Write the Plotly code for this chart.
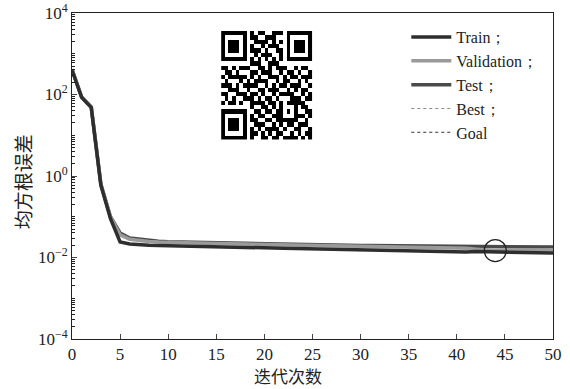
import plotly.graph_objects as go

epochs = list(range(51))
train = [400, 85, 48, 0.6, 0.09, 0.024, 0.0215, 0.0205, 0.0200, 0.0196,
         0.0193, 0.0191, 0.0189, 0.0187, 0.0185, 0.0183, 0.0181, 0.0179, 0.0177, 0.0175,
         0.0173, 0.0171, 0.0169, 0.0167, 0.0165, 0.0163, 0.0161, 0.0159, 0.0157, 0.0155,
         0.0153, 0.0151, 0.0149, 0.0147, 0.0145, 0.0143, 0.0141, 0.0139, 0.0137, 0.0135,
         0.0134, 0.0136, 0.0140, 0.0138, 0.0135, 0.0134, 0.0133, 0.0132, 0.0131, 0.0130,
         0.0129]
validation = [420, 88, 50, 0.65, 0.10, 0.036, 0.028, 0.026, 0.0248, 0.0240,
              0.0234, 0.0231, 0.0228, 0.0226, 0.0224, 0.0222, 0.0220, 0.0218, 0.0216, 0.0214,
              0.0212, 0.0210, 0.0208, 0.0206, 0.0204, 0.0202, 0.0200, 0.0198, 0.0196, 0.0194,
              0.0192, 0.0190, 0.0188, 0.0186, 0.0184, 0.0182, 0.0180, 0.0178, 0.0176, 0.0174,
              0.0172, 0.0168, 0.0160, 0.0152, 0.0148, 0.0150, 0.0151, 0.0152, 0.0153, 0.0154,
              0.0155]
test = [410, 87, 49, 0.62, 0.10, 0.040, 0.030, 0.028, 0.026, 0.025,
        0.0242, 0.0239, 0.0236, 0.0233, 0.0230, 0.0228, 0.0226, 0.0224, 0.0222, 0.0220,
        0.0218, 0.0216, 0.0214, 0.0212, 0.0210, 0.0208, 0.0206, 0.0204, 0.0202, 0.0200,
        0.0198, 0.0197, 0.0196, 0.0195, 0.0194, 0.0193, 0.0192, 0.0191, 0.0190, 0.0189,
        0.0188, 0.0187, 0.0186, 0.0185, 0.0184, 0.0183, 0.0182, 0.0181, 0.0181, 0.0180,
        0.0180]
best_epoch = 44
best_value = 0.0148

ytick_vals = [1e-4, 1e-2, 1, 1e2, 1e4]
ytick_text = ["10<sup>\u22124</sup>", "10<sup>\u22122</sup>", "10<sup>0</sup>",
              "10<sup>2</sup>", "10<sup>4</sup>"]
xtick_vals = [0, 5, 10, 15, 20, 25, 30, 35, 40, 45, 50]
legend_names = ["Train\uff1b", "Validation\uff1b", "Test\uff1b", "Best\uff1b", "Goal"]

qr_rows = [
    "1111111010110011101111111",
    "1000001011001110001000001",
    "1011101001111010101011101",
    "1011101010010111001011101",
    "1011101011101001101011101",
    "1000001001011100101000001",
    "1111111010101010101111111",
    "0000000011100111000000000",
    "1101011100110101110010110",
    "0110100011011100101101001",
    "1011111010100111010110111",
    "0100010101111001011001010",
    "1110101111001010110111001",
    "0011100100110111001010110",
    "1100111011010010111100101",
    "0101001110101101000111011",
    "1011010011110110101111100",
    "0000000010011010100010110",
    "1111111001101101101010011",
    "1000001010110011100011101",
    "1011101011001101111110010",
    "1011101001110010101101110",
    "1011101010101111010011001",
    "1000001011010101100101011",
    "1111111010011011011110101",
]

minor_vals = []
for k in range(-4, 4):
    for m in range(2, 10):
        minor_vals.append(m * 10 ** k)
    if k % 2 == 1:
        minor_vals.append(10 ** k)

serif = "Liberation Serif, Times New Roman, serif"
cjk = "Noto Sans CJK SC, sans-serif"

fig = go.Figure()
fig.add_trace(go.Scatter(x=epochs, y=test, mode="lines", name=legend_names[2], legendrank=3,
                         line=dict(color="#4a4a4a", width=3.5)))
fig.add_trace(go.Scatter(x=epochs, y=validation, mode="lines", name=legend_names[1], legendrank=2,
                         line=dict(color="#9a9a9a", width=3.5)))
fig.add_trace(go.Scatter(x=epochs, y=train, mode="lines", name=legend_names[0], legendrank=1,
                         line=dict(color="#2e2e2e", width=3.5)))
fig.add_trace(go.Scatter(x=[None], y=[None], mode="lines", name=legend_names[3], legendrank=4,
                         line=dict(color="#888888", width=1, dash="dot")))
fig.add_trace(go.Scatter(x=[None], y=[None], mode="lines", name=legend_names[4], legendrank=5,
                         line=dict(color="#333333", width=1, dash="dot")))
fig.add_trace(go.Scatter(x=[best_epoch], y=[best_value], mode="markers", showlegend=False,
                         marker=dict(symbol="circle-open", size=22, color="#222222",
                                     line=dict(color="#222222", width=1.3))))

# QR code decoration
z = [[int(c) for c in row] for row in qr_rows]
fig.add_trace(go.Heatmap(z=z, xaxis="x2", yaxis="y2", showscale=False, hoverinfo="skip",
                         colorscale=[[0, "white"], [1, "black"]], zmin=0, zmax=1))

fig.update_layout(
    width=570, height=389,
    margin=dict(l=72, r=17, t=13, b=50),
    paper_bgcolor="white", plot_bgcolor="white",
    font=dict(family=serif, size=16, color="#222222"),
    showlegend=True,
    legend=dict(x=0.695, y=0.978, xanchor="left", yanchor="top",
                bgcolor="rgba(0,0,0,0)", font=dict(family=serif, size=16),
                tracegroupgap=0, itemwidth=40),
    xaxis=dict(range=[0, 50], tickvals=xtick_vals, ticks="inside", ticklen=5,
               showline=True, linecolor="#222222", linewidth=1, mirror=True,
               showgrid=False, zeroline=False, automargin=False,
               tickfont=dict(family=serif, size=17)),
    yaxis=dict(type="log", range=[-4, 4], tickvals=ytick_vals, ticktext=ytick_text,
               ticks="inside", ticklen=5, showline=True, linecolor="#222222",
               linewidth=1, mirror=True, showgrid=False, zeroline=False, automargin=False,
               tickfont=dict(family=serif, size=17),
               minor=dict(tickvals=minor_vals, ticks="inside", ticklen=3,
                          tickcolor="#222222", showgrid=False)),
    xaxis2=dict(domain=[0.31, 0.50], anchor="y2", visible=False, showgrid=False,
                range=[-0.5, 24.5], automargin=False),
    yaxis2=dict(domain=[0.612, 0.945], anchor="x2", visible=False, showgrid=False,
                range=[24.5, -0.5], automargin=False),
    annotations=[
        dict(text="\u8fed\u4ee3\u6b21\u6570", x=22.5, y=-0.113, xref="x", yref="paper",
             showarrow=False, font=dict(family=cjk, size=17, color="#222222"),
             xanchor="center", yanchor="middle"),
        dict(text="\u5747\u65b9\u6839\u8bef\u5dee", x=-0.103, y=0.482, xref="paper", yref="paper",
             showarrow=False, textangle=-90, font=dict(family=cjk, size=19, color="#222222"),
             xanchor="center", yanchor="middle"),
    ],
)

fig.write_html("out.html", config={"displayModeBar": False},
               post_script="document.body.style.margin='0';")
